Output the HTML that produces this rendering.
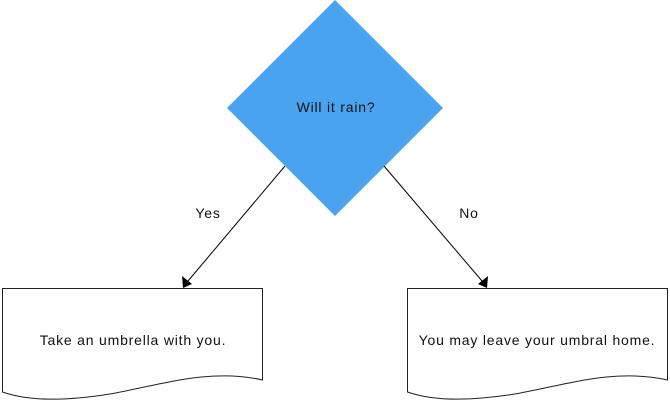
<!DOCTYPE html>
<html><head><style>body{margin:0;background:#fff}</style></head><body>
<svg width="670" height="407" xmlns="http://www.w3.org/2000/svg" style="display:block;font-family:'Liberation Sans',sans-serif;font-size:14px;letter-spacing:0.8px">
<polygon points="335,0 443,108 335,216 227,108" fill="#4aa3f0"/>
<text x="336" y="112" text-anchor="middle" fill="#111">Will it rain?</text>
<line x1="285" y1="166" x2="188" y2="281" stroke="#000"/>
<polygon points="183,288 182,276 192,284" fill="#000"/>
<line x1="384" y1="166" x2="482" y2="281" stroke="#000"/>
<polygon points="487,288 478,284 488,276" fill="#000"/>
<text x="208" y="218" text-anchor="middle" fill="#111">Yes</text>
<text x="469" y="218" text-anchor="middle" fill="#111">No</text>
<path d="M2.5,288.5 H262.5 V380 C210,368 160,385 110,394 C60,402 25,400 2.5,392 Z" fill="#fff" stroke="#222"/>
<path d="M407.5,288.5 H667.5 V380 C615,368 565,385 515,394 C465,402 430,400 407.5,392 Z" fill="#fff" stroke="#222"/>
<text x="133" y="345" text-anchor="middle" fill="#111">Take an umbrella with you.</text>
<text x="537" y="345" text-anchor="middle" fill="#111">You may leave your umbral home.</text>
</svg>
</body></html>
